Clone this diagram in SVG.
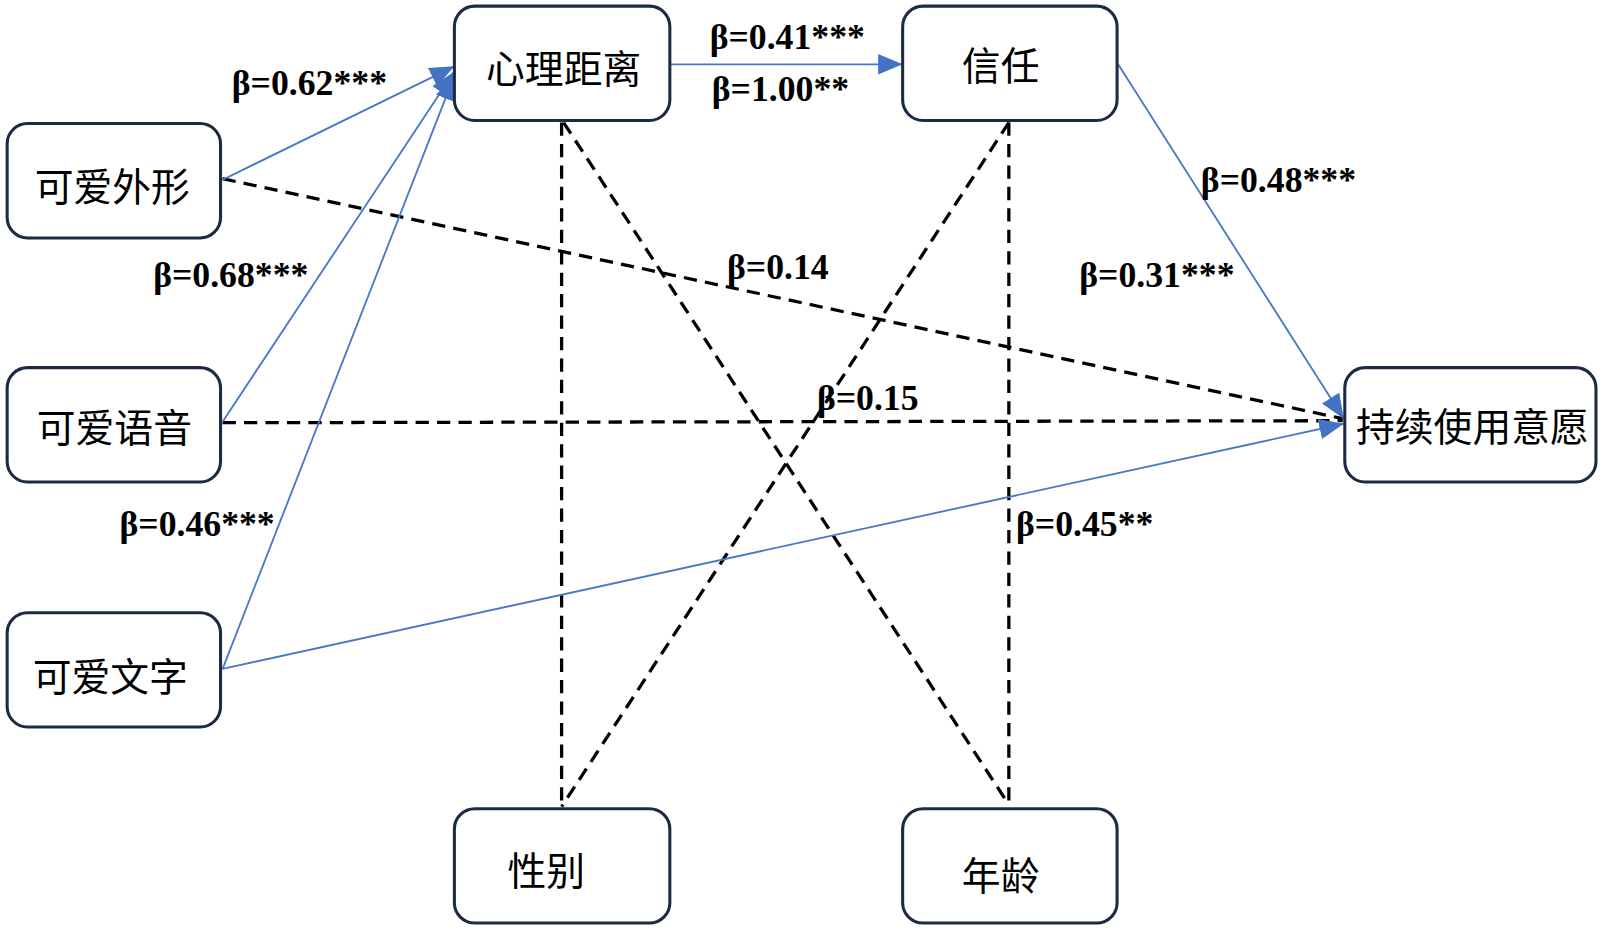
<svg xmlns="http://www.w3.org/2000/svg" width="1600" height="928" viewBox="0 0 1600 928">
<style>
.node rect{fill:#fff;stroke:#1c2a44;stroke-width:3}
.node text{font-family:"Noto Sans CJK SC","Noto Sans",sans-serif;font-size:38px;fill:#000;text-anchor:middle;dominant-baseline:central}
.b{stroke:#4a78c8;stroke-width:1.8;fill:none}
.d{stroke:#000;stroke-width:3.2;stroke-dasharray:13 8;fill:none}
.lbl{font-family:"Liberation Serif","Times New Roman",serif;font-size:35px;font-weight:bold;fill:#000}
</style>
<defs>
<marker id="ah" markerUnits="userSpaceOnUse" markerWidth="26" markerHeight="20" refX="24" refY="10" orient="auto">
<path d="M0,0 L24,10 L0,20 Z" fill="#4472c4"/>
</marker>
</defs>
<rect width="1600" height="928" fill="#fff"/>
<g transform="scale(1.0211)">
<g id="connectors">
<line class="d" x1="218" y1="175" x2="1315" y2="410"/>
<line class="d" x1="218" y1="414" x2="1315" y2="412"/>
<line class="d" x1="550" y1="120" x2="550" y2="790"/>
<line class="d" x1="552" y1="120" x2="986" y2="785"/>
<line class="d" x1="988" y1="120" x2="550" y2="790"/>
<line class="d" x1="988" y1="120" x2="988" y2="785"/>
<line class="b" x1="218" y1="176" x2="445" y2="65" marker-end="url(#ah)"/>
<line class="b" x1="218" y1="413" x2="445" y2="70" marker-end="url(#ah)"/>
<line class="b" x1="218" y1="655" x2="445" y2="74" marker-end="url(#ah)"/>
<line class="b" x1="657" y1="63" x2="884" y2="63" marker-end="url(#ah)"/>
<line class="b" x1="1095" y1="63" x2="1316" y2="410" marker-end="url(#ah)"/>
<line class="b" x1="218" y1="655" x2="1316" y2="415" marker-end="url(#ah)"/>
</g>
<g id="n-waixing" class="node"><rect x="7" y="121" width="209" height="112" rx="20"/><text x="110" y="180">可爱外形</text></g>
<g id="n-yuyin" class="node"><rect x="7" y="360" width="209" height="112" rx="20"/><text x="112" y="416">可爱语音</text></g>
<g id="n-wenzi" class="node"><rect x="7" y="600" width="209" height="112" rx="20"/><text x="108" y="660">可爱文字</text></g>
<g id="n-juli" class="node"><rect x="445" y="6" width="211" height="112" rx="20"/><text x="552" y="65">心理距离</text></g>
<g id="n-xinren" class="node"><rect x="884" y="6" width="210" height="112" rx="20"/><text x="980" y="62">信任</text></g>
<g id="n-yiyuan" class="node"><rect x="1317" y="360" width="246" height="112" rx="20"/><text x="1442" y="415">持续使用意愿</text></g>
<g id="n-xingbie" class="node"><rect x="445" y="792" width="211" height="112" rx="20"/><text x="535" y="850">性别</text></g>
<g id="n-nianling" class="node"><rect x="884" y="792" width="210" height="112" rx="20"/><text x="980" y="855">年龄</text></g>
<g id="labels">
<text class="lbl" x="227" y="93">β=0.62***</text>
<text class="lbl" x="695" y="48">β=0.41***</text>
<text class="lbl" x="697" y="99">β=1.00**</text>
<text class="lbl" x="1176" y="188">β=0.48***</text>
<text class="lbl" x="712" y="273">β=0.14</text>
<text class="lbl" x="150" y="281">β=0.68***</text>
<text class="lbl" x="1057" y="281">β=0.31***</text>
<text class="lbl" x="800" y="402">β=0.15</text>
<text class="lbl" x="117" y="525">β=0.46***</text>
<text class="lbl" x="995" y="525">β=0.45**</text>
</g>
</g>
</svg>
